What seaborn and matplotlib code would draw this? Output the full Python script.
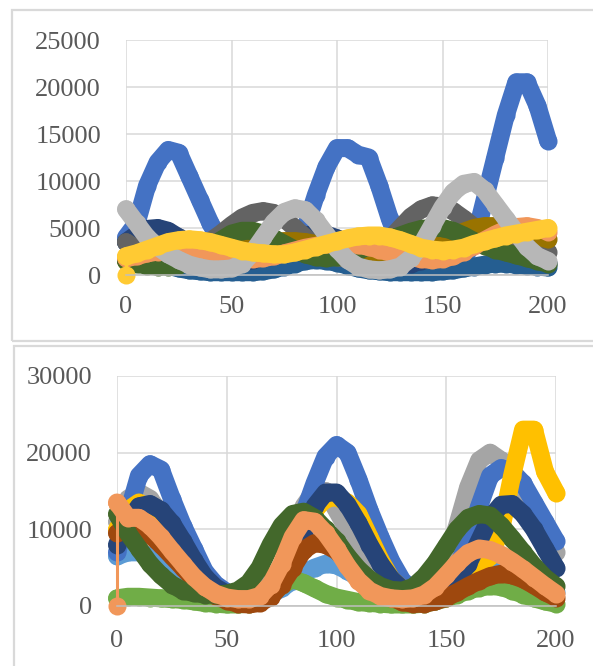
import pandas as pd
import seaborn as sns
import matplotlib.pyplot as plt
from matplotlib.patches import Rectangle

# x positions shared by every series (day index)
x_days = list(range(0, 201, 5))

# ---------------- upper chart ----------------
top_blue = [4000, 5500, 9500, 12000, 13300, 13000, 10500, 8000, 5500, 3500,
            2000, 1500, 1200, 1000, 1200, 2000, 3000, 5000, 8500, 11500,
            13500, 13500, 12800, 12500, 9500, 6000, 3000, 1500, 1000, 900,
            900, 1000, 1800, 3500, 8000, 12500, 17000, 20500, 20500, 18000, 14300]
top_steel = [3500, 2800, 2100, 1500, 1000, 700, 500, 400, 300, 300,
             300, 300, 300, 400, 600, 900, 1200, 1500, 1600, 1500,
             1300, 1000, 700, 500, 400, 300, 300, 300, 300, 300,
             400, 500, 700, 900, 1100, 1200, 1200, 1100, 1000, 900, 800]
top_navy = [3500, 4300, 4900, 5000, 4700, 4000, 3200, 2400, 1800, 1400,
            1200, 1300, 1600, 2100, 2700, 3300, 3800, 4200, 4400, 4300,
            3900, 3300, 2600, 2000, 1500, 1200, 1100, 1200, 1500, 2000,
            2500, 3000, 3400, 3600, 3600, 3400, 3000, 2500, 2000, 1600, 1300]
top_dgrey = [3500, 2800, 2200, 1800, 1600, 1700, 2000, 2800, 3600, 4400,
             5300, 6100, 6600, 6800, 6600, 6000, 5000, 4000, 3000, 2300,
             1900, 1700, 1800, 2200, 2900, 3800, 5000, 6200, 7000, 7400,
             7300, 6800, 6000, 5100, 4300, 3600, 3100, 2800, 2600, 2500, 2400]
top_dgold = [1500, 1300, 1200, 1100, 1100, 1200, 1400, 1600, 1900, 2200,
             2500, 2800, 3100, 3300, 3500, 3600, 3600, 3500, 3300, 3000,
             2700, 2400, 2100, 1900, 1800, 1800, 1900, 2200, 2600, 3100,
             3600, 4100, 4600, 5000, 5200, 5200, 5000, 4700, 4400, 4100, 3800]
top_dgreen = [1500, 1200, 1000, 900, 900, 1100, 1500, 2100, 2900, 3700,
              4400, 4700, 4700, 4400, 3900, 3300, 2700, 2200, 1900, 1800,
              1900, 2200, 2600, 3000, 3400, 3800, 4200, 4600, 4900, 5000,
              5000, 4700, 4200, 3600, 3100, 2700, 2400, 2100, 1800, 1500, 1200]
top_orange = [1800, 2000, 2300, 2500, 2700, 2700, 2600, 2400, 2200, 2000,
              1800, 1700, 1700, 1800, 2000, 2300, 2600, 2900, 3100, 3300,
              3400, 3400, 3200, 3000, 2700, 2400, 2100, 1900, 1700, 1600,
              1700, 2000, 2500, 3100, 3700, 4300, 4800, 5100, 5200, 5000, 4600]
top_lgrey = [7000, 5500, 4000, 3000, 2200, 1600, 1100, 800, 600, 600,
             700, 1200, 2400, 4000, 5600, 6700, 7100, 6900, 5800, 4300,
             2800, 1600, 900, 600, 500, 600, 900, 1800, 3200, 5200,
             7200, 8800, 9700, 9900, 9000, 7500, 6000, 4500, 3000, 2000, 1500]
top_yellow = [2000, 2300, 2700, 3100, 3500, 3700, 3800, 3700, 3500, 3200,
              2900, 2600, 2400, 2300, 2200, 2200, 2400, 2700, 3000, 3300,
              3600, 3900, 4100, 4200, 4200, 4000, 3700, 3300, 2900, 2700,
              2600, 2700, 2900, 3300, 3600, 3900, 4200, 4400, 4600, 4800, 5000]
top_yellow_first = 0

top_names = ['blue', 'steel', 'navy', 'dark grey', 'dark gold',
             'dark green', 'orange', 'light grey', 'yellow']
top_colors = ['#4472C4', '#255E91', '#264478', '#636363', '#997300',
              '#43682B', '#F1975A', '#B7B7B7', '#FFCA33']
top_values = [top_blue, top_steel, top_navy, top_dgrey, top_dgold,
              top_dgreen, top_orange, top_lgrey, top_yellow]
top_yticks = [0, 5000, 10000, 15000, 20000, 25000]

# ---------------- lower chart ----------------
bot_lblue = [6500, 7000, 7000, 6500, 5500, 4200, 3000, 2000, 1300, 900,
             700, 700, 800, 1000, 1500, 2300, 3300, 4300, 5000, 5500,
             5300, 4600, 3700, 2800, 2000, 1400, 1000, 800, 800, 1000,
             1500, 2300, 3200, 4000, 4500, 4600, 4300, 3700, 3000, 2300, 1800]
bot_green = [1000, 1200, 1200, 1100, 1000, 900, 800, 600, 400, 300,
             200, 200, 300, 700, 1500, 2700, 3500, 3000, 2300, 1600,
             1100, 800, 500, 400, 300, 200, 200, 200, 300, 600,
             1000, 1500, 2000, 2400, 2600, 2500, 2000, 1500, 1000, 600, 300]
bot_grey = [11000, 14000, 14800, 14000, 12000, 9500, 7000, 4800, 3200, 2200,
            1600, 1300, 1300, 1800, 3000, 5200, 8500, 13000, 15000, 15000,
            12500, 10000, 7800, 5800, 4000, 2800, 2000, 1600, 1800, 3000,
            6000, 10500, 15500, 19000, 20000, 19000, 17000, 14800, 12500, 10000, 7000]
bot_blue = [7000, 12000, 17000, 18500, 17800, 14000, 10500, 7500, 4500, 2800,
            1800, 1300, 1200, 1500, 2500, 4500, 8000, 12000, 16000, 19500,
            21000, 20000, 16500, 12500, 9000, 5800, 3300, 2000, 1500, 1500,
            2500, 5000, 8500, 13000, 17000, 18000, 17500, 16000, 13500, 11000, 8500]
bot_gold = [10000, 12500, 13500, 12500, 11500, 9500, 7000, 5000, 3300, 2300,
            1500, 1200, 1200, 1600, 2500, 4300, 7000, 10000, 12500, 14000,
            14200, 13500, 12000, 9000, 6000, 3500, 2200, 1700, 1500, 1800,
            2500, 3300, 4200, 5000, 6500, 10000, 17000, 23000, 23000, 17500, 14800]
bot_navy = [8000, 11000, 13000, 13300, 12500, 10800, 8500, 6000, 3800, 2400,
            1600, 1200, 1100, 1300, 2000, 3500, 6000, 9500, 13000, 14800,
            14800, 13200, 10800, 8000, 5500, 3500, 2200, 1500, 1300, 1500,
            2200, 3500, 5500, 8500, 11500, 13200, 13300, 12000, 10000, 7500, 5000]
bot_brown = [9500, 10500, 10200, 9300, 8000, 6500, 5000, 3500, 2200, 1300,
             700, 300, 200, 400, 1200, 2800, 5000, 7300, 8200, 8000,
             7200, 5800, 4300, 3000, 2000, 1100, 500, 300, 300, 600,
             1100, 1800, 2600, 3300, 3900, 4200, 4000, 3500, 2700, 1800, 1100]
bot_dgreen = [12000, 9500, 7500, 5500, 4000, 2800, 2000, 1700, 1500, 1500,
              1600, 2000, 3000, 5000, 8000, 10500, 12000, 12300, 11500, 10000,
              8500, 6500, 4800, 3500, 2600, 2100, 2000, 2500, 3800, 5600,
              7800, 10000, 11500, 12000, 11800, 10500, 8800, 7000, 5200, 3700, 2600]
bot_orange = [13500, 11500, 11500, 10500, 9000, 7200, 5500, 3800, 2500, 1600,
              1100, 900, 900, 1300, 2800, 5500, 9000, 11200, 11000, 9500,
              7500, 5200, 3300, 2000, 1300, 1000, 900, 1000, 1500, 2500,
              4000, 5600, 6900, 7500, 7300, 6700, 5800, 4800, 3700, 2600, 1600]
bot_orange_first = 0

bot_names = ['light blue', 'green', 'grey', 'blue', 'gold', 'navy',
             'brown', 'dark green', 'orange']
bot_colors = ['#5B9BD5', '#70AD47', '#A5A5A5', '#4472C4', '#FFC000',
              '#264478', '#9E480E', '#43682B', '#F1975A']
bot_values = [bot_lblue, bot_green, bot_grey, bot_blue, bot_gold, bot_navy,
              bot_brown, bot_dgreen, bot_orange]
bot_yticks = [0, 10000, 20000, 30000]

xticks = [0, 50, 100, 150, 200]

BAND = 13  # thickness of the dotted bands, in points


def long_frame(names, values):
    parts = [pd.DataFrame({'x': x_days, 'value': vals, 'series': name})
             for name, vals in zip(names, values)]
    return pd.concat(parts, ignore_index=True)


def draw_chart(ax, names, colors, values, jump_series, jump_from, yticks, xpad):
    df = long_frame(names, values)
    sns.lineplot(data=df, x='x', y='value', hue='series', hue_order=names,
                 palette=colors, estimator=None, sort=False, legend=False,
                 marker='o', markersize=BAND, markeredgewidth=0, linewidth=BAND,
                 solid_capstyle='round', solid_joinstyle='round',
                 clip_on=False, ax=ax)
    # first point of one series sits at zero: thin connector like excel
    k = names.index(jump_series)
    sns.lineplot(x=[x_days[0], x_days[0]], y=[jump_from, values[k][0]],
                 color=colors[k], estimator=None, sort=False, linewidth=2.2,
                 marker='o', markersize=BAND, markeredgewidth=0,
                 clip_on=False, ax=ax)

    ax.set_xlim(0, 200)
    ax.set_ylim(yticks[0], yticks[-1])
    ax.set_xticks(xticks)
    ax.set_yticks(yticks)
    ax.set_xlabel('')
    ax.set_ylabel('')
    ax.grid(True, color='#d9d9d9', linewidth=1.1)
    ax.set_axisbelow(True)
    for side in ['top', 'right', 'left']:
        ax.spines[side].set_visible(False)
    ax.spines['bottom'].set_color('#bfbfbf')
    ax.spines['bottom'].set_linewidth(1.1)
    ax.tick_params(axis='both', length=0, labelsize=19, labelcolor='#595959')
    ax.tick_params(axis='x', pad=xpad)
    ax.tick_params(axis='y', pad=18)


sns.set_theme(style='white')
plt.rcParams['font.family'] = ['Liberation Serif', 'DejaVu Serif']

W, H = 593, 666
fig = plt.figure(figsize=(W / 100, H / 100), dpi=100)
fig.patch.set_facecolor('white')

# chart area borders (the right/bottom edges run off the picture)
fig.patches.append(Rectangle((12 / W, 1 - 341 / H), 1.0, 331 / H,
                             transform=fig.transFigure, fill=False,
                             edgecolor='#d9d9d9', linewidth=1.6))
fig.patches.append(Rectangle((14 / W, -0.05), 1.0, 1 - 346 / H + 0.05,
                             transform=fig.transFigure, fill=False,
                             edgecolor='#d9d9d9', linewidth=1.6))

ax1 = fig.add_axes([126 / W, 1 - 275 / H, 422 / W, 235 / H])
ax2 = fig.add_axes([117 / W, 1 - 606 / H, 439 / W, 230 / H])

draw_chart(ax1, top_names, top_colors, top_values, 'yellow', top_yellow_first, top_yticks, 15)
draw_chart(ax2, bot_names, bot_colors, bot_values, 'orange', bot_orange_first, bot_yticks, 17)

fig.savefig('out.png', dpi=100, facecolor='white')
